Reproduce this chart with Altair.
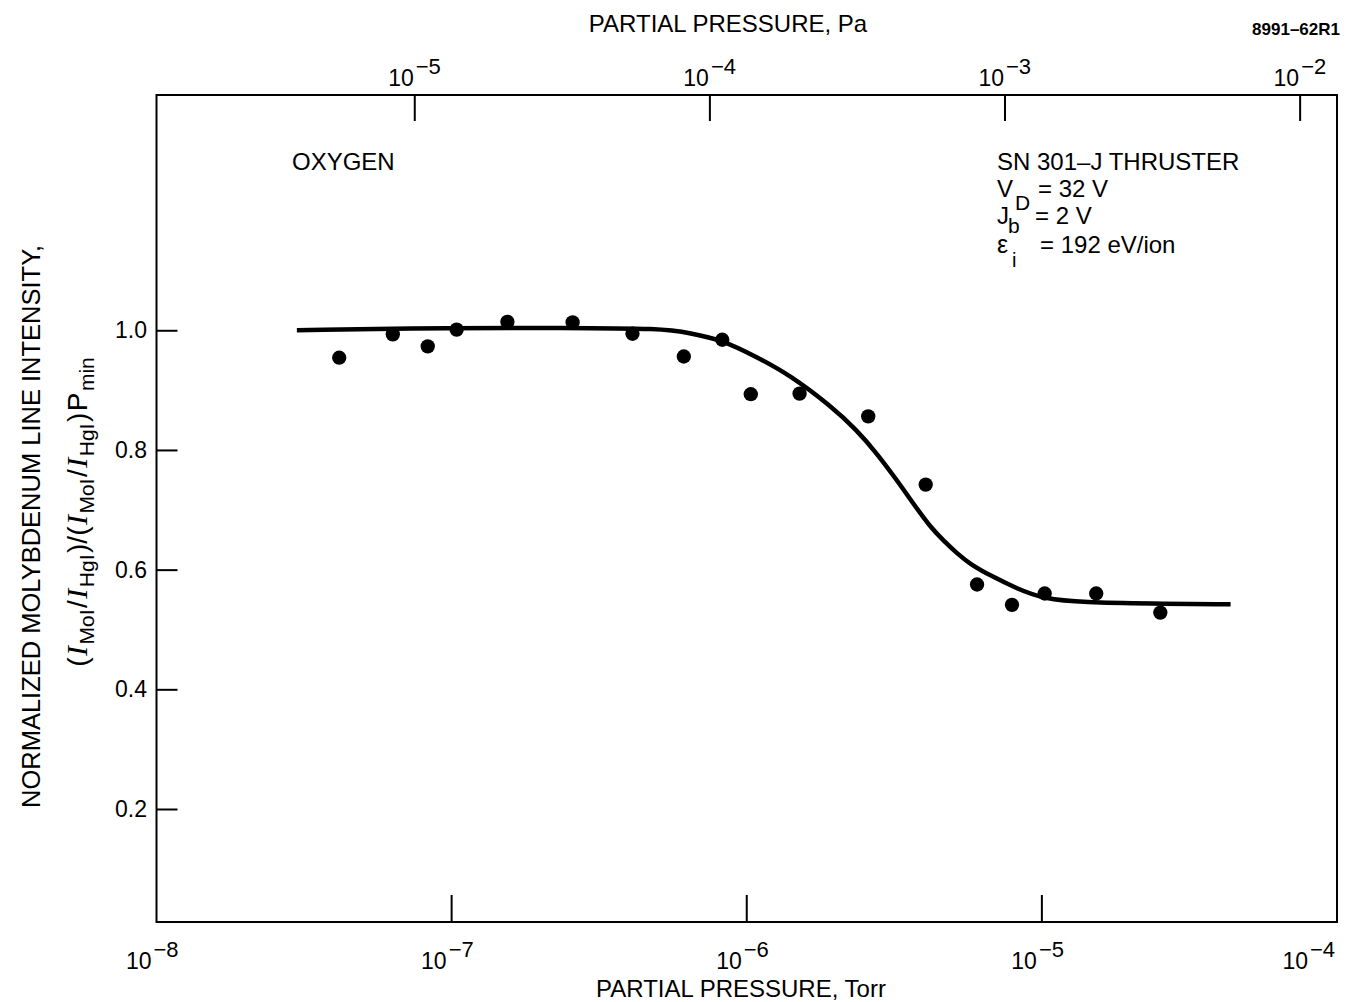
import altair as alt
import pandas as pd

# ---------------- data ----------------
pressure_torr = [4.16e-8, 6.32e-8, 8.30e-8, 1.04e-7, 1.545e-7, 2.57e-7, 4.10e-7, 6.12e-7,
                 8.26e-7, 1.032e-6, 1.51e-6, 2.58e-6, 4.04e-6, 6.03e-6, 7.92e-6, 1.022e-5,
                 1.528e-5, 2.52e-5]
intensity = [0.955, 0.994, 0.974, 1.002, 1.015, 1.014, 0.995, 0.957,
             0.985, 0.894, 0.895, 0.857, 0.743, 0.576, 0.542, 0.561,
             0.561, 0.529]

curve_torr = [2.99e-8, 1.044e-7, 2.33e-7, 5.21e-7, 6.42e-7, 8.24e-7, 1.083e-6, 1.40e-6,
              1.92e-6, 2.36e-6, 2.76e-6, 3.23e-6, 3.67e-6, 4.19e-6, 4.65e-6, 5.16e-6,
              5.72e-6, 6.69e-6, 8.24e-6, 1.014e-5, 1.386e-5, 2.33e-5, 4.36e-5]
curve_val = [1.001, 1.005, 1.005, 1.004, 0.996, 0.985, 0.956, 0.926,
             0.875, 0.834, 0.795, 0.750, 0.711, 0.672, 0.649, 0.628,
             0.610, 0.591, 0.569, 0.552, 0.546, 0.544, 0.543]

torr_ticks = [1e-8, 1e-7, 1e-6, 1e-5, 1e-4]
torr_exp = ["\u22128", "\u22127", "\u22126", "\u22125", "\u22124"]
torr_inner_ticks = [1e-7, 1e-6, 1e-5]

pa_ticks = [1e-5, 1e-4, 1e-3, 1e-2]
pa_exp = ["\u22125", "\u22124", "\u22123", "\u22122"]

y_ticks = [0.2, 0.4, 0.6, 0.8, 1.0]

TORR_TO_PA = 133.322

# ---------------- layout ----------------
W, H = 1180.5, 827
FONT = "Liberation Sans"
SERIF = "Liberation Serif"

torr_scale = alt.Scale(type="log", domain=[1e-8, 1e-4], nice=False)
pa_scale = alt.Scale(type="log", domain=[1e-8 * TORR_TO_PA, 1e-4 * TORR_TO_PA], nice=False)
y_scale = alt.Scale(domain=[0.012, 1.394], nice=False, zero=False)

one = pd.DataFrame({"a": [0]})

# data points
pts_df = pd.DataFrame({"p": pressure_torr, "v": intensity})
points = alt.Chart(pts_df).mark_circle(size=205, color="black", opacity=1).encode(
    x=alt.X("p:Q", scale=torr_scale, axis=None),
    y=alt.Y("v:Q", scale=y_scale,
            axis=alt.Axis(values=y_ticks, format=".1f", ticks=False, domain=False, grid=False,
                          labelFont=FONT, labelFontSize=23, labelColor="black",
                          labelPadding=10, title=None)),
)

curve_df = pd.DataFrame({"p": curve_torr, "v": curve_val})
curve = alt.Chart(curve_df).mark_line(color="black", strokeWidth=4.5, interpolate="basis").encode(
    x=alt.X("p:Q", scale=torr_scale, axis=None),
    y=alt.Y("v:Q", scale=y_scale, axis=None),
)

# inward ticks
bt_df = pd.DataFrame({"p": torr_inner_ticks})
bottom_ticks = alt.Chart(bt_df).mark_rule(color="black", strokeWidth=2).encode(
    x=alt.X("p:Q", scale=torr_scale, axis=None),
    y=alt.value(H), y2=alt.value(H - 27),
)
tp_df = pd.DataFrame({"p": pa_ticks})
top_ticks = alt.Chart(tp_df).mark_rule(color="black", strokeWidth=2).encode(
    x=alt.X("p:Q", scale=pa_scale, axis=None),
    y=alt.value(0), y2=alt.value(26),
)
lt_df = pd.DataFrame({"v": y_ticks})
left_ticks = alt.Chart(lt_df).mark_rule(color="black", strokeWidth=2).encode(
    y=alt.Y("v:Q", scale=y_scale, axis=None),
    x=alt.value(0), x2=alt.value(21),
)


def power_labels(vals, exps, scale, y_base, y_exp, dx_base, dx_exp):
    df = pd.DataFrame({"p": vals, "b": ["10"] * len(vals), "e": exps})
    base = alt.Chart(df).mark_text(font=FONT, fontSize=23, align="right", dx=dx_base,
                                   color="black").encode(
        x=alt.X("p:Q", scale=scale, axis=None), y=alt.value(y_base), text="b:N")
    ex = alt.Chart(df).mark_text(font=FONT, fontSize=22, align="left", dx=dx_exp,
                                 color="black").encode(
        x=alt.X("p:Q", scale=scale, axis=None), y=alt.value(y_exp), text="e:N")
    return [base, ex]


tick_labels = []
tick_labels += power_labels(torr_ticks[:-1], torr_exp[:-1], torr_scale, H + 40, H + 28, -5, -3)
tick_labels += power_labels(torr_ticks[-1:], torr_exp[-1:], torr_scale, H + 40, H + 28, -29, -27)
tick_labels += power_labels(pa_ticks, pa_exp, pa_scale, -16, -28, -1, 1)


def label(txt, x, y, size=24, align="left", weight="normal", style="normal", font=FONT, angle=0):
    kw = dict(font=font, fontSize=size, align=align, fontWeight=weight, fontStyle=style,
              color="black", baseline="alphabetic")
    if angle:
        kw["angle"] = angle
    return alt.Chart(one).mark_text(**kw).encode(x=alt.value(x), y=alt.value(y), text=alt.value(txt))


texts = [
    label("PARTIAL PRESSURE, Pa", 571.5, -63, size=24, align="center"),
    label("PARTIAL PRESSURE, Torr", 584.5, H + 75, size=24, align="center"),
    label("8991\u201362R1", 1183.5, -60, size=17, align="right", weight="bold"),
    label("OXYGEN", 135.5, 75, size=24),
    label("SN 301\u2013J THRUSTER", 840.5, 75, size=24),
    label("V", 840.5, 102, size=24),
    label("D", 858.5, 115, size=21),
    label("= 32 V", 881.5, 102, size=24),
    label("J", 840.5, 129, size=24),
    label("b", 851.5, 138, size=21),
    label("= 2 V", 878.5, 129, size=24),
    label("\u03b5", 840.5, 158, size=25),
    label("i", 855.5, 172, size=20),
    label("= 192 eV/ion", 883.5, 158, size=24),
    label("NORMALIZED MOLYBDENUM LINE INTENSITY,", -116.5, 431.5, size=25.5,
          align="center", angle=270),
]

# second y-title line built from pieces (rotated 270)
CW = {"(": .333, ")": .333, "/": .278, "I": .278, "M": .833, "o": .556, "H": .722,
      "g": .556, "P": .667, "m": .833, "i": .222, "n": .556}
pieces = [("(", "n"), ("I", "i"), ("MoI", "s"), ("/", "n"), ("I", "i"), ("HgI", "s"),
          (")/(", "n"), ("I", "i"), ("MoI", "s"), ("/", "n"), ("I", "i"), ("HgI", "s"),
          (")", "n"), ("P", "n"), ("min", "s")]
sizes = {"n": 28, "i": 30, "s": 21}
GAP = 1.5
widths = []
for t, s in pieces:
    if s == "i":
        widths.append(0.333 * sizes[s])
    else:
        widths.append(sum(CW[c] for c in t) * sizes[s])
total = sum(widths) + GAP * (len(pieces) - 1)
center_y = 417
base_x = -69.5
cur = center_y + total / 2
rows = {"n": [], "i": [], "s": []}
for (t, s), w in zip(pieces, widths):
    rows[s].append({"t": t, "px": base_x + (7 if s == "s" else 0), "py": cur})
    cur -= w + GAP

for s, fnt, style in [("n", FONT, "normal"), ("i", SERIF, "italic"), ("s", FONT, "normal")]:
    df = pd.DataFrame(rows[s])
    texts.append(
        alt.Chart(df).mark_text(font=fnt, fontSize=sizes[s], fontStyle=style, align="left",
                                baseline="alphabetic", angle=270, color="black").encode(
            x=alt.X("px:Q", scale=None, axis=None),
            y=alt.Y("py:Q", scale=None, axis=None),
            text="t:N")
    )

chart = alt.layer(
    curve, points, bottom_ticks, top_ticks, left_ticks, *tick_labels, *texts
).resolve_scale(x="independent", y="independent").properties(
    width=W, height=H,
    autosize=alt.AutoSizeParams(type="none"),
    padding={"left": 148.5, "top": 87, "right": 8, "bottom": 80},
).configure_view(stroke="black", strokeWidth=2)

chart.save("out.html", embed_options={"renderer": "svg", "actions": False})
